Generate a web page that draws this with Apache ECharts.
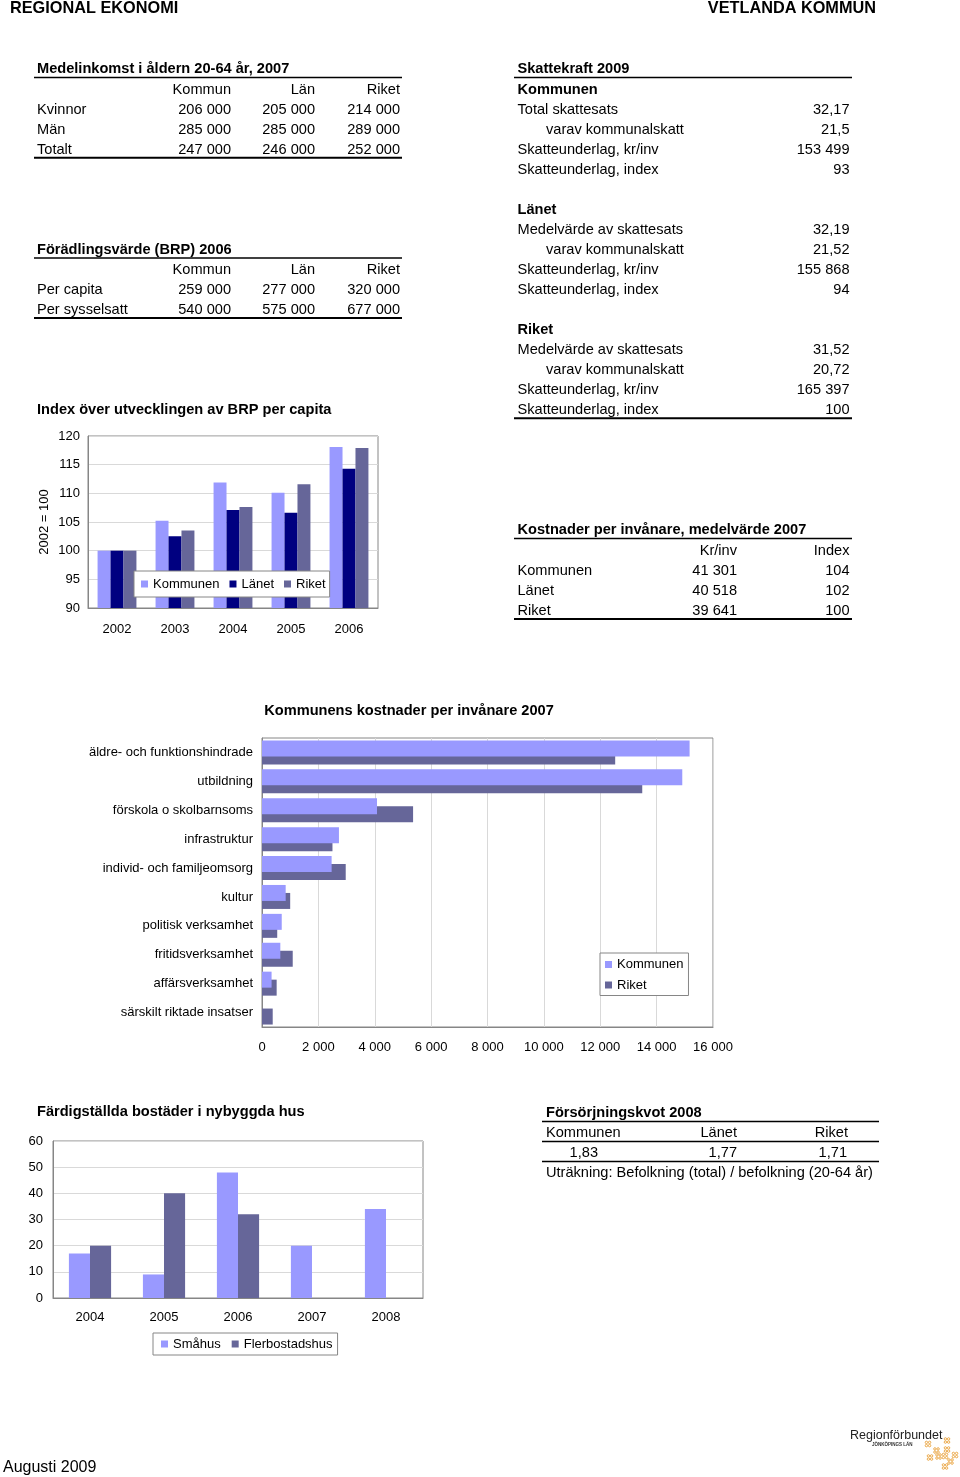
<!DOCTYPE html>
<html><head><meta charset="utf-8">
<script src="https://cdn.jsdelivr.net/npm/echarts@6/dist/echarts.min.js"></script>
<style>html,body{margin:0;padding:0;background:#fff;}#c{width:960px;height:1477px;}</style>
</head><body><div id="c"></div>
<script>
// ---------- DATA ----------
const headerLeft = 'REGIONAL EKONOMI';
const headerRight = 'VETLANDA KOMMUN';
const footerText = 'Augusti 2009';
const logoName = 'Regionförbundet';
const logoSub = 'JÖNKÖPINGS LÄN';

const incomeTitle = 'Medelinkomst i åldern 20-64 år, 2007';
const incomeColumns = ['Kommun', 'Län', 'Riket'];
const incomeRowLabels = ['Kvinnor', 'Män', 'Totalt'];
const incomeKommun = [206000, 285000, 247000];
const incomeLan = [205000, 285000, 246000];
const incomeRiket = [214000, 289000, 252000];

const brpTitle = 'Förädlingsvärde (BRP) 2006';
const brpColumns = ['Kommun', 'Län', 'Riket'];
const brpRowLabels = ['Per capita', 'Per sysselsatt'];
const brpKommun = [259000, 540000];
const brpLan = [277000, 575000];
const brpRiket = [320000, 677000];

const indexTitle = 'Index över utvecklingen av BRP per capita';
const indexAxisName = '2002 = 100';
const indexYears = ['2002', '2003', '2004', '2005', '2006'];
const indexKommunen = [100, 105.2, 111.9, 110.1, 118.1];
const indexLanet = [100, 102.5, 107.1, 106.6, 114.3];
const indexRiket = [100, 103.5, 107.6, 111.6, 117.9];

const skattTitle = 'Skattekraft 2009';
const skattSections = ['Kommunen', 'Länet', 'Riket'];
const skattLabelsKommunen = ['Total skattesats', 'varav kommunalskatt', 'Skatteunderlag, kr/inv', 'Skatteunderlag, index'];
const skattLabelsOther = ['Medelvärde av skattesats', 'varav kommunalskatt', 'Skatteunderlag, kr/inv', 'Skatteunderlag, index'];
const skattKommunen = [32.17, 21.5, 153499, 93];
const skattLanet = [32.19, 21.52, 155868, 94];
const skattRiket = [31.52, 20.72, 165397, 100];

const costTitle = 'Kostnader per invånare, medelvärde 2007';
const costColumns = ['Kr/inv', 'Index'];
const costRowLabels = ['Kommunen', 'Länet', 'Riket'];
const costKrInv = [41301, 40518, 39641];
const costIndex = [104, 102, 100];

const servTitle = 'Kommunens kostnader per invånare 2007';
const servCategories = ['äldre- och funktionshindrade', 'utbildning', 'förskola o skolbarnsoms', 'infrastruktur',
  'individ- och familjeomsorg', 'kultur', 'politisk verksamhet', 'fritidsverksamhet', 'affärsverksamhet', 'särskilt riktade insatser'];
const servKommunen = [15170, 14910, 4080, 2730, 2470, 840, 700, 650, 340, 0];
const servRiket = [12530, 13490, 5360, 2500, 2970, 1000, 540, 1090, 520, 380];

const housingTitle = 'Färdigställda bostäder i nybyggda hus';
const housingYears = ['2004', '2005', '2006', '2007', '2008'];
const housingSmahus = [17, 9, 48, 20, 34];
const housingFler = [20, 40, 32, 0, 0];

const fkTitle = 'Försörjningskvot 2008';
const fkColumns = ['Kommunen', 'Länet', 'Riket'];
const fkValues = [1.83, 1.77, 1.71];
const fkNote = 'Uträkning: Befolkning (total) / befolkning (20-64 år)';

// ---------- HELPERS ----------
const FONT = '"Liberation Sans", Arial, Helvetica, sans-serif';
const FS = 14.6;
function fmt(n) {
  if (Number.isInteger(n)) return String(n).replace(/\B(?=(\d{3})+(?!\d))/g, ' ');
  return String(n).replace('.', ',');
}
function fmt2(n) { return n.toFixed(2).replace('.', ','); }
const g = [];
function txt(s, x, y, o) {
  o = o || {};
  const font = (o.bold ? 'bold ' : '') + (o.size || FS) + 'px ' + FONT;
  g.push({ type: 'text', silent: true, x: x, y: y + 1, z: 10,
    style: { text: s, fill: o.color || '#000', font: font,
      textAlign: o.align || 'left', textVerticalAlign: 'middle',
      align: o.align || 'left', verticalAlign: 'middle' } });
}
function hline(x1, x2, y, w) {
  g.push({ type: 'line', silent: true, z: 10, shape: { x1: x1, y1: y, x2: x2, y2: y }, style: { stroke: '#000', lineWidth: w || 1.5 } });
}

// header & footer
txt(headerLeft, 10, 7.5, { bold: true, size: 16.3 });
txt(headerRight, 876, 7.5, { bold: true, size: 16.3, align: 'right' });
txt(footerText, 3, 1466.5, { size: 16 });

// Medelinkomst table
const incColX = [231, 315, 400];
txt(incomeTitle, 37, 68, { bold: true });
hline(34, 402, 77.5);
incomeColumns.forEach((c, i) => txt(c, incColX[i], 88.5, { align: 'right' }));
incomeRowLabels.forEach((r, i) => {
  const y = 108.5 + i * 20;
  txt(r, 37, y);
  txt(fmt(incomeKommun[i]), incColX[0], y, { align: 'right' });
  txt(fmt(incomeLan[i]), incColX[1], y, { align: 'right' });
  txt(fmt(incomeRiket[i]), incColX[2], y, { align: 'right' });
});
hline(34, 402, 157.8, 2);

// BRP table
txt(brpTitle, 37, 248.5, { bold: true });
hline(34, 402, 258);
brpColumns.forEach((c, i) => txt(c, incColX[i], 268.5, { align: 'right' }));
brpRowLabels.forEach((r, i) => {
  const y = 288.5 + i * 20;
  txt(r, 37, y);
  txt(fmt(brpKommun[i]), incColX[0], y, { align: 'right' });
  txt(fmt(brpLan[i]), incColX[1], y, { align: 'right' });
  txt(fmt(brpRiket[i]), incColX[2], y, { align: 'right' });
});
hline(34, 402, 318, 2);

txt(indexTitle, 37, 409, { bold: true });

// Skattekraft table
txt(skattTitle, 517.5, 68, { bold: true });
hline(514, 852, 77.5);
const skattData = [skattKommunen, skattLanet, skattRiket];
const skattStart = [88.5, 208.5, 329];
skattSections.forEach((s, si) => {
  const y0 = skattStart[si];
  txt(s, 517.5, y0, { bold: true });
  const labels = si === 0 ? skattLabelsKommunen : skattLabelsOther;
  labels.forEach((l, i) => {
    const y = y0 + 20 * (i + 1);
    txt(l, i === 1 ? 546 : 517.5, y);
    txt(fmt(skattData[si][i]), 849.5, y, { align: 'right' });
  });
});
hline(514, 852, 418.3, 2);

// Kostnader table
txt(costTitle, 517.5, 529, { bold: true });
hline(514, 852, 538.5);
txt(costColumns[0], 737, 549.5, { align: 'right' });
txt(costColumns[1], 849.5, 549.5, { align: 'right' });
costRowLabels.forEach((r, i) => {
  const y = 569.5 + i * 20;
  txt(r, 517.5, y);
  txt(fmt(costKrInv[i]), 737, y, { align: 'right' });
  txt(fmt(costIndex[i]), 849.5, y, { align: 'right' });
});
hline(514, 852, 619, 2);

// chart titles
txt(servTitle, 409, 710, { bold: true, align: 'center' });
txt(housingTitle, 37, 1111, { bold: true });

// Försörjningskvot
txt(fkTitle, 546, 1111.5, { bold: true });
hline(542, 879, 1121.5);
txt(fkColumns[0], 546, 1131.5);
txt(fkColumns[1], 737, 1131.5, { align: 'right' });
txt(fkColumns[2], 848, 1131.5, { align: 'right' });
hline(542, 879, 1141.5);
const fkX = [598, 737, 847];
fkValues.forEach((v, i) => txt(fmt2(v), fkX[i], 1151.5, { align: 'right' }));
hline(542, 879, 1161.5);
txt(fkNote, 546, 1172);

// logo
txt(logoName, 850, 1435, { size: 12.5, color: '#222' });
txt(logoSub, 872, 1443.5, { size: 4.5, bold: true, color: '#333' });
[[928, 1444], [947, 1440.5], [936.5, 1450.5], [947, 1449.5], [945, 1456], [955, 1455], [930, 1457.5], [938.5, 1456.5], [945, 1466.5], [950.5, 1461.5]]
  .forEach(p => {
    [[-1.6, -1.6], [1.6, -1.6], [-1.6, 1.6], [1.6, 1.6]].forEach(d => {
      g.push({ type: 'circle', silent: true, shape: { cx: p[0] + d[0], cy: p[1] + d[1], r: 1.2 }, style: { fill: 'none', stroke: '#e9a23b', lineWidth: 0.9 } });
    });
  });

// ---------- CHART ----------
const C_K = '#9999ff', C_L = '#000080', C_R = '#666699';
const AX = '#868686', GRID = '#d9d9d9';
const lab = { color: '#000', fontSize: 13, fontFamily: FONT };
const legendBase = { icon: 'rect', itemWidth: 7, itemHeight: 7, backgroundColor: '#fff', borderColor: AX, borderWidth: 1, borderRadius: 0,
  textStyle: { color: '#000', fontSize: 13, fontFamily: FONT, lineHeight: 16 }, selectedMode: false };
const gridBase = { show: true, borderColor: AX, borderWidth: 1, backgroundColor: 'transparent', containLabel: false, outerBoundsMode: 'none' };

const option = {
  animation: false,
  textStyle: { fontFamily: FONT },
  graphic: { elements: g },
  grid: [
    Object.assign({ left: 88, top: 436, width: 290, height: 172 }, gridBase),
    Object.assign({ left: 262, top: 738, width: 451, height: 289 }, gridBase),
    Object.assign({ left: 53, top: 1141, width: 370, height: 157 }, gridBase)
  ],
  legend: [
    Object.assign({}, legendBase, { data: ['Kommunen', 'Länet', 'Riket'], left: 134, top: 571, orient: 'horizontal', itemGap: 10, padding: [5, 4, 5, 7] }),
    Object.assign({}, legendBase, { data: ['Kommunen', 'Riket'], left: 600, top: 953, orient: 'vertical', itemGap: 3.5, padding: [3, 5, 2, 5],
      textStyle: { color: '#000', fontSize: 13, fontFamily: FONT, lineHeight: 17 } }),
    Object.assign({}, legendBase, { data: ['Småhus', 'Flerbostadshus'], left: 153, top: 1333, orient: 'horizontal', itemGap: 11, padding: [3, 5, 3, 8] })
  ],
  xAxis: [
    { gridIndex: 0, type: 'category', data: indexYears, axisLine: { lineStyle: { color: AX } }, axisTick: { show: false },
      axisLabel: Object.assign({ margin: 15, interval: 0 }, lab), splitLine: { show: false } },
    { gridIndex: 1, type: 'value', min: 0, max: 16000, interval: 2000, axisLine: { show: true, lineStyle: { color: AX } }, axisTick: { show: false },
      axisLabel: Object.assign({ margin: 14, formatter: v => fmt(v) }, lab), splitLine: { show: true, lineStyle: { color: GRID } } },
    { gridIndex: 2, type: 'category', data: housingYears, axisLine: { lineStyle: { color: AX } }, axisTick: { show: false },
      axisLabel: Object.assign({ margin: 13, interval: 0 }, lab), splitLine: { show: false } }
  ],
  yAxis: [
    { gridIndex: 0, type: 'value', min: 90, max: 120, interval: 5, startValue: 90, axisLine: { show: true, lineStyle: { color: AX } }, axisTick: { show: false },
      axisLabel: Object.assign({ margin: 8, padding: [3, 0, 0, 0] }, lab), splitLine: { show: true, lineStyle: { color: GRID } },
      name: indexAxisName, nameLocation: 'middle', nameRotate: 90, nameGap: 37, nameTextStyle: { color: '#000', fontSize: 13, fontFamily: FONT } },
    { gridIndex: 1, type: 'category', data: servCategories, inverse: true, axisLine: { show: true, lineStyle: { color: AX } }, axisTick: { show: false },
      axisLabel: Object.assign({ margin: 9, interval: 0, padding: [3, 0, 0, 0] }, lab), splitLine: { show: false } },
    { gridIndex: 2, type: 'value', min: 0, max: 60, interval: 10, axisLine: { show: true, lineStyle: { color: AX } }, axisTick: { show: false },
      axisLabel: Object.assign({ margin: 10, padding: [3, 0, 0, 0] }, lab), splitLine: { show: true, lineStyle: { color: GRID } } }
  ],
  series: [
    { name: 'Kommunen', type: 'bar', xAxisIndex: 0, yAxisIndex: 0, data: indexKommunen, itemStyle: { color: C_K }, barGap: '0%', barCategoryGap: '33%' },
    { name: 'Länet', type: 'bar', xAxisIndex: 0, yAxisIndex: 0, data: indexLanet, itemStyle: { color: C_L }, barGap: '0%', barCategoryGap: '33%' },
    { name: 'Riket', type: 'bar', xAxisIndex: 0, yAxisIndex: 0, data: indexRiket, itemStyle: { color: C_R }, barGap: '0%', barCategoryGap: '33%' },
    { name: 'Kommunen', type: 'bar', xAxisIndex: 1, yAxisIndex: 1, data: servKommunen, itemStyle: { color: C_K }, barGap: '-50%', barCategoryGap: '17%', z: 3 },
    { name: 'Riket', type: 'bar', xAxisIndex: 1, yAxisIndex: 1, data: servRiket, itemStyle: { color: C_R }, barGap: '-50%', barCategoryGap: '17%', z: 2 },
    { name: 'Småhus', type: 'bar', xAxisIndex: 2, yAxisIndex: 2, data: housingSmahus, itemStyle: { color: C_K }, barGap: '0%', barCategoryGap: '43%' },
    { name: 'Flerbostadshus', type: 'bar', xAxisIndex: 2, yAxisIndex: 2, data: housingFler, itemStyle: { color: C_R }, barGap: '0%', barCategoryGap: '43%' }
  ]
};
const chart = echarts.init(document.getElementById('c'), null, { renderer: 'canvas', width: 960, height: 1477 });
chart.setOption(option);
</script></body></html>
